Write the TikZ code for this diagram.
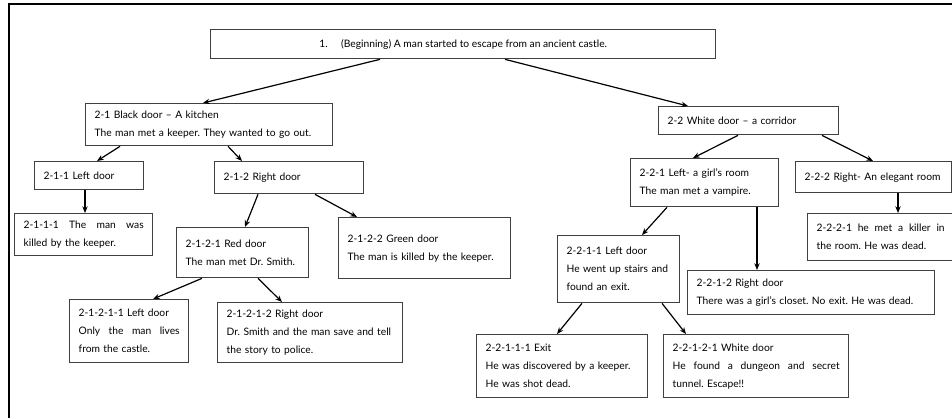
\documentclass[tikz,border=0pt]{standalone}
\usepackage{fontspec}
\setmainfont{Lato}
\usetikzlibrary{arrows.meta,calc}

\newcommand{\spreadline}[1]{\makebox[\hsize][s]{\spaceskip=0.25em plus 1fil\relax #1}}
\frenchspacing

\tikzset{
    storybox/.style={draw=black!75, line width=1pt, fill=white, anchor=north west,
        align=left, inner xsep=6.75pt, inner ysep=2pt,
        font=\fontsize{7.7}{13.5}\selectfont},
    link/.style={->, line width=0.9pt}
}

\begin{document}
\begin{tikzpicture}[x=0.75pt, y=-0.75pt, >={Stealth[length=5pt,width=4pt]}]
    \useasboundingbox (0,0) rectangle (952,418);

    % --- Frame ---
    \draw[line width=1.6pt] (9,418) -- (9,4) -- (952,4);

    % --- Level 1 ---
    \node[storybox, align=center, minimum width=378.75pt, minimum height=21.75pt] (root) at (210,29)
        {1.\hspace{1.3em}(Beginning) A man started to escape from an ancient castle.};

    % --- Level 2 ---
    \node[storybox, text width=171.75pt, minimum height=31.5pt] (b21) at (85,103)
        {2-1 Black door -- A kitchen\\The man met a keeper. They wanted to go out.};
    \node[storybox, text width=121.5pt, minimum height=21pt] (b22) at (658,106)
        {2-2 White door -- a corridor};

    % --- Left branch ---
    \node[storybox, text width=68.25pt, minimum height=21pt] (b211) at (34,161)
        {2-1-1 Left door};
    \node[storybox, text width=98.25pt, minimum height=24pt] (b212) at (214,161)
        {2-1-2 Right door};
    \node[storybox, text width=90pt, minimum height=31.5pt] (b2111) at (14,213)
        {\spreadline{2-1-1-1 The man was}\\killed by the keeper.};
    \node[storybox, text width=85.5pt, minimum height=37.5pt] (b2121) at (176,227)
        {2-1-2-1 Red door\\The man met Dr. Smith.};
    \node[storybox, text width=115.5pt, minimum height=45.75pt] (b2122) at (338,217)
        {2-1-2-2 Green door\\The man is killed by the keeper.\\[6pt]};
    \node[storybox, text width=75.75pt, minimum height=47.25pt] (b21211) at (69,299)
        {2-1-2-1-1 Left door\\\spreadline{Only the man lives}\\from the castle.};
    \node[storybox, text width=125.25pt, minimum height=45pt] (b21212) at (217,302)
        {2-1-2-1-2 Right door\\Dr. Smith and the man save and tell\\the story to police.};

    % --- Right branch ---
    \node[storybox, text width=97.5pt, minimum height=36pt] (b221) at (630,158)
        {2-2-1 Left- a girl's room\\The man met a vampire.};
    \node[storybox, text width=103.5pt, minimum height=23.25pt] (b222) at (795,161)
        {2-2-2 Right- An elegant room};
    \node[storybox, text width=96pt, minimum height=35.25pt] (b2221) at (807,213)
        {\spreadline{2-2-2-1 he met a killer in}\\the room. He was dead.};
    \node[storybox, text width=78pt, minimum height=50.25pt] (b2211) at (557,235)
        {2-2-1-1 Left door\\He went up stairs and\\found an exit.};
    \node[storybox, text width=171.75pt, minimum height=33pt] (b2212) at (687,270)
        {2-2-1-2 Right door\\There was a girl's closet. No exit. He was dead.};
    \node[storybox, text width=114.75pt, minimum height=47.25pt] (b22111) at (476,334)
        {2-2-1-1-1 Exit\\He was discovered by a keeper.\\He was shot dead.};
    \node[storybox, text width=125.25pt, minimum height=47.25pt] (b22121) at (663,334)
        {2-2-1-2-1 White door\\\spreadline{He found a dungeon and secret}\\tunnel. Escape!!};

    % --- Links ---
    \draw[link] ($(root.south west)+(170,0)$) -- ($(b21.north west)+(118,0)$);
    \draw[link] ($(root.south west)+(295,0)$) -- ($(b22.north west)+(30,0)$);
    \draw[link] ($(b21.south west)+(35,0)$) -- ($(b211.north west)+(63,0)$);
    \draw[link] ($(b21.south west)+(143,0)$) -- ($(b212.north west)+(28,0)$);
    \draw[link] ($(b211.south west)+(51,0)$) -- ($(b2111.north west)+(71,0)$);
    \draw[link] ($(b212.south west)+(44,0)$) -- ($(b2121.north west)+(69,0)$);
    \draw[link] ($(b212.south west)+(101,0)$) -- ($(b2122.north west)+(19,0)$);
    \draw[link] ($(b2121.south west)+(26,0)$) -- ($(b21211.north west)+(84,0)$);
    \draw[link] ($(b2121.south west)+(82,0)$) -- ($(b21212.north west)+(65,0)$);
    \draw[link] ($(b22.south west)+(80,0)$) -- ($(b221.north west)+(63,0)$);
    \draw[link] ($(b22.south west)+(164,0)$) -- ($(b222.north west)+(78,0)$);
    \draw[link] ($(b222.south west)+(103,0)$) -- ($(b2221.north west)+(91,0)$);
    \draw[link] ($(b221.south west)+(37,0)$) -- ($(b2211.north west)+(85,0)$);
    \draw[link] ($(b221.south west)+(127,0)$) -- ($(b2212.north west)+(70,0)$);
    \draw[link] ($(b2211.south west)+(25,0)$) -- ($(b22111.north west)+(81,0)$);
    \draw[link] ($(b2211.south west)+(105,0)$) -- ($(b22121.north west)+(23,0)$);
\end{tikzpicture}
\end{document}
